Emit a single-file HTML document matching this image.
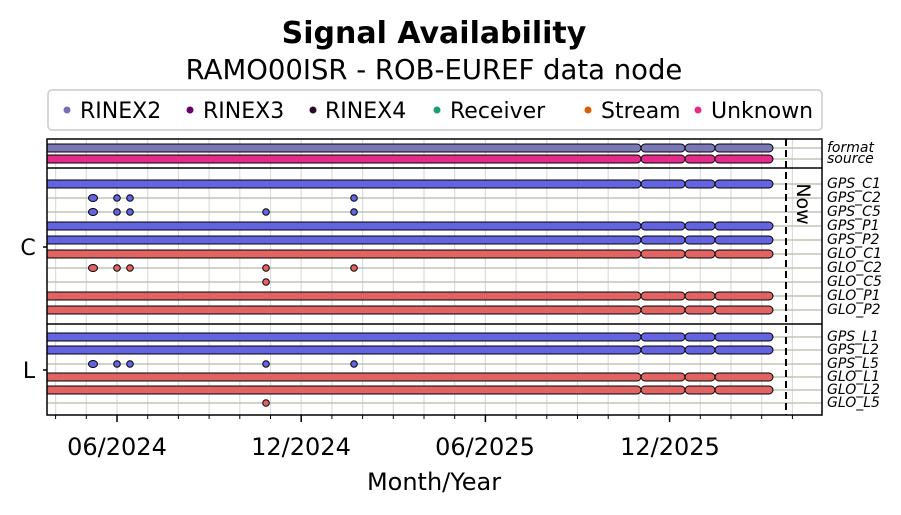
<!DOCTYPE html>
<html><head><meta charset="utf-8"><style>
html,body{margin:0;padding:0;background:#fff;}
svg{display:block;font-family:"DejaVu Sans","Liberation Sans",sans-serif;}
</style></head><body>
<svg width="901" height="515" viewBox="0 0 901 515" xmlns="http://www.w3.org/2000/svg">
<defs><clipPath id="c"><rect x="47" y="139" width="775" height="276"/></clipPath></defs>
<text x="434" y="43" text-anchor="middle" font-size="30" font-weight="bold">Signal Availability</text>
<text x="434" y="79" text-anchor="middle" font-size="27.5">RAMO00ISR - ROB-EUREF data node</text>
<rect x="48" y="90" width="774" height="40" rx="4" fill="#fff" stroke="#ccc" stroke-width="1.5"/>
<g font-size="22">
<circle cx="67" cy="110" r="3.5" fill="#7570b3"/><text x="80" y="118">RINEX2</text>
<circle cx="190" cy="110" r="3.5" fill="#660066"/><text x="203" y="118">RINEX3</text>
<circle cx="313" cy="110" r="3.5" fill="#2a0a2a"/><text x="325" y="118">RINEX4</text>
<circle cx="437" cy="110" r="3.5" fill="#1b9e77"/><text x="450" y="118">Receiver</text>
<circle cx="588" cy="110" r="3.5" fill="#d95f02"/><text x="601" y="118">Stream</text>
<circle cx="698" cy="110" r="3.5" fill="#e7298a"/><text x="711" y="118">Unknown</text>
</g>
<g stroke="#ddd" stroke-width="1.2">
<line x1="55.6" y1="139" x2="55.6" y2="415"/><line x1="86.3" y1="139" x2="86.3" y2="415"/><line x1="117" y1="139" x2="117" y2="415"/><line x1="147.7" y1="139" x2="147.7" y2="415"/><line x1="178.4" y1="139" x2="178.4" y2="415"/><line x1="209.1" y1="139" x2="209.1" y2="415"/><line x1="239.8" y1="139" x2="239.8" y2="415"/><line x1="270.5" y1="139" x2="270.5" y2="415"/><line x1="301.2" y1="139" x2="301.2" y2="415"/><line x1="331.9" y1="139" x2="331.9" y2="415"/><line x1="362.6" y1="139" x2="362.6" y2="415"/><line x1="393.3" y1="139" x2="393.3" y2="415"/><line x1="424" y1="139" x2="424" y2="415"/><line x1="454.7" y1="139" x2="454.7" y2="415"/><line x1="485.4" y1="139" x2="485.4" y2="415"/><line x1="516.1" y1="139" x2="516.1" y2="415"/><line x1="546.8" y1="139" x2="546.8" y2="415"/><line x1="577.5" y1="139" x2="577.5" y2="415"/><line x1="608.2" y1="139" x2="608.2" y2="415"/><line x1="638.9" y1="139" x2="638.9" y2="415"/><line x1="669.6" y1="139" x2="669.6" y2="415"/><line x1="700.3" y1="139" x2="700.3" y2="415"/><line x1="731" y1="139" x2="731" y2="415"/><line x1="761.7" y1="139" x2="761.7" y2="415"/><line x1="792.4" y1="139" x2="792.4" y2="415"/>
</g>
<g stroke="#b3bba8" stroke-width="1.2">
<line x1="47" y1="148" x2="822" y2="148"/><line x1="47" y1="159" x2="822" y2="159"/>
<line x1="47" y1="184" x2="822" y2="184"/><line x1="47" y1="198" x2="822" y2="198"/><line x1="47" y1="212" x2="822" y2="212"/><line x1="47" y1="226" x2="822" y2="226"/><line x1="47" y1="240" x2="822" y2="240"/><line x1="47" y1="254" x2="822" y2="254"/><line x1="47" y1="268" x2="822" y2="268"/><line x1="47" y1="282" x2="822" y2="282"/><line x1="47" y1="296" x2="822" y2="296"/><line x1="47" y1="310" x2="822" y2="310"/>
<line x1="47" y1="337" x2="822" y2="337"/><line x1="47" y1="350" x2="822" y2="350"/><line x1="47" y1="364" x2="822" y2="364"/><line x1="47" y1="377" x2="822" y2="377"/><line x1="47" y1="390" x2="822" y2="390"/><line x1="47" y1="403" x2="822" y2="403"/>
</g>
<g id="segs" clip-path="url(#c)" stroke="#000" stroke-width="1">
<g fill="#7b78b8"><rect x="35" y="144" width="606" height="8" rx="4"/><rect x="641" y="144" width="44" height="8" rx="4"/><rect x="685" y="144" width="30" height="8" rx="4"/><rect x="715" y="144" width="58" height="8" rx="4"/></g>
<g fill="#e22b8a"><rect x="35" y="155" width="606" height="8" rx="4"/><rect x="641" y="155" width="44" height="8" rx="4"/><rect x="685" y="155" width="30" height="8" rx="4"/><rect x="715" y="155" width="58" height="8" rx="4"/></g>
<g fill="#6464e0">
<rect x="35" y="180" width="606" height="8" rx="4"/><rect x="641" y="180" width="44" height="8" rx="4"/><rect x="685" y="180" width="30" height="8" rx="4"/><rect x="715" y="180" width="58" height="8" rx="4"/>
<rect x="35" y="222" width="606" height="8" rx="4"/><rect x="641" y="222" width="44" height="8" rx="4"/><rect x="685" y="222" width="30" height="8" rx="4"/><rect x="715" y="222" width="58" height="8" rx="4"/>
<rect x="35" y="236" width="606" height="8" rx="4"/><rect x="641" y="236" width="44" height="8" rx="4"/><rect x="685" y="236" width="30" height="8" rx="4"/><rect x="715" y="236" width="58" height="8" rx="4"/>
<rect x="35" y="333" width="606" height="8" rx="4"/><rect x="641" y="333" width="44" height="8" rx="4"/><rect x="685" y="333" width="30" height="8" rx="4"/><rect x="715" y="333" width="58" height="8" rx="4"/>
<rect x="35" y="346" width="606" height="8" rx="4"/><rect x="641" y="346" width="44" height="8" rx="4"/><rect x="685" y="346" width="30" height="8" rx="4"/><rect x="715" y="346" width="58" height="8" rx="4"/>
</g>
<g fill="#e06464">
<rect x="35" y="250" width="606" height="8" rx="4"/><rect x="641" y="250" width="44" height="8" rx="4"/><rect x="685" y="250" width="30" height="8" rx="4"/><rect x="715" y="250" width="58" height="8" rx="4"/>
<rect x="35" y="292" width="606" height="8" rx="4"/><rect x="641" y="292" width="44" height="8" rx="4"/><rect x="685" y="292" width="30" height="8" rx="4"/><rect x="715" y="292" width="58" height="8" rx="4"/>
<rect x="35" y="306" width="606" height="8" rx="4"/><rect x="641" y="306" width="44" height="8" rx="4"/><rect x="685" y="306" width="30" height="8" rx="4"/><rect x="715" y="306" width="58" height="8" rx="4"/>
<rect x="35" y="373" width="606" height="8" rx="4"/><rect x="641" y="373" width="44" height="8" rx="4"/><rect x="685" y="373" width="30" height="8" rx="4"/><rect x="715" y="373" width="58" height="8" rx="4"/>
<rect x="35" y="386" width="606" height="8" rx="4"/><rect x="641" y="386" width="44" height="8" rx="4"/><rect x="685" y="386" width="30" height="8" rx="4"/><rect x="715" y="386" width="58" height="8" rx="4"/>
</g>
</g>
<g stroke="#000" stroke-width="1" fill="#6464e0">
<ellipse cx="93" cy="198" rx="4.5" ry="3.5"/><circle cx="117" cy="198" r="3.3"/><circle cx="130" cy="198" r="3.3"/><circle cx="354" cy="198" r="3.3"/>
<ellipse cx="93" cy="212" rx="4.5" ry="3.5"/><circle cx="117" cy="212" r="3.3"/><circle cx="130" cy="212" r="3.3"/><circle cx="266" cy="212" r="3.3"/><circle cx="354" cy="212" r="3.3"/>
<ellipse cx="93" cy="364" rx="4.5" ry="3.5"/><circle cx="117" cy="364" r="3.3"/><circle cx="130" cy="364" r="3.3"/><circle cx="266" cy="364" r="3.3"/><circle cx="354" cy="364" r="3.3"/>
</g>
<g stroke="#000" stroke-width="1" fill="#e06464">
<ellipse cx="93" cy="268" rx="4.5" ry="3.5"/><circle cx="117" cy="268" r="3.3"/><circle cx="130" cy="268" r="3.3"/><circle cx="266" cy="268" r="3.3"/><circle cx="354" cy="268" r="3.3"/>
<circle cx="266" cy="282" r="3.3"/>
<circle cx="266" cy="403" r="3.3"/>
</g>
<line x1="786" y1="139" x2="786" y2="415" stroke="#000" stroke-width="2" stroke-dasharray="7,4"/>
<text transform="translate(797,204) rotate(90)" text-anchor="middle" font-size="19">Now</text>
<g fill="none" stroke="#000" stroke-width="1.5">
<rect x="47" y="139" width="775" height="276"/>
<line x1="47" y1="168" x2="822" y2="168"/>
<line x1="47" y1="324" x2="822" y2="324"/>
</g>
<g stroke="#000" stroke-width="1">
<line x1="55.6" y1="415" x2="55.6" y2="419"/><line x1="86.3" y1="415" x2="86.3" y2="419"/><line x1="147.7" y1="415" x2="147.7" y2="419"/><line x1="178.4" y1="415" x2="178.4" y2="419"/><line x1="209.1" y1="415" x2="209.1" y2="419"/><line x1="239.8" y1="415" x2="239.8" y2="419"/><line x1="270.5" y1="415" x2="270.5" y2="419"/><line x1="331.9" y1="415" x2="331.9" y2="419"/><line x1="362.6" y1="415" x2="362.6" y2="419"/><line x1="393.3" y1="415" x2="393.3" y2="419"/><line x1="424" y1="415" x2="424" y2="419"/><line x1="454.7" y1="415" x2="454.7" y2="419"/><line x1="516.1" y1="415" x2="516.1" y2="419"/><line x1="546.8" y1="415" x2="546.8" y2="419"/><line x1="577.5" y1="415" x2="577.5" y2="419"/><line x1="608.2" y1="415" x2="608.2" y2="419"/><line x1="638.9" y1="415" x2="638.9" y2="419"/><line x1="700.3" y1="415" x2="700.3" y2="419"/><line x1="731" y1="415" x2="731" y2="419"/><line x1="761.7" y1="415" x2="761.7" y2="419"/><line x1="792.4" y1="415" x2="792.4" y2="419"/>
</g>
<g stroke="#000" stroke-width="1.5">
<line x1="117" y1="415" x2="117" y2="422"/><line x1="301.2" y1="415" x2="301.2" y2="422"/><line x1="485.4" y1="415" x2="485.4" y2="422"/><line x1="669.6" y1="415" x2="669.6" y2="422"/>
<line x1="43" y1="247" x2="47" y2="247"/><line x1="43" y1="370" x2="47" y2="370"/>
</g>
<g font-size="24" text-anchor="middle">
<text x="117" y="455">06/2024</text><text x="301" y="455">12/2024</text><text x="485" y="455">06/2025</text><text x="670" y="455">12/2025</text>
<text x="434" y="490">Month/Year</text>
</g>
<text x="28" y="255" text-anchor="middle" font-size="22">C</text>
<text x="29" y="378" text-anchor="middle" font-size="22">L</text>
<g font-size="14" font-style="italic">
<text x="827" y="152">format</text><text x="827" y="163">source</text>
<text x="827" y="188">GPS_C1</text><text x="827" y="202">GPS_C2</text><text x="827" y="216">GPS_C5</text><text x="827" y="230">GPS_P1</text><text x="827" y="244">GPS_P2</text><text x="827" y="258">GLO_C1</text><text x="827" y="272">GLO_C2</text><text x="827" y="286">GLO_C5</text><text x="827" y="300">GLO_P1</text><text x="827" y="314">GLO_P2</text>
<text x="827" y="341">GPS_L1</text><text x="827" y="354">GPS_L2</text><text x="827" y="368">GPS_L5</text><text x="827" y="381">GLO_L1</text><text x="827" y="394">GLO_L2</text><text x="827" y="407">GLO_L5</text>
</g>
</svg>
</body></html>
